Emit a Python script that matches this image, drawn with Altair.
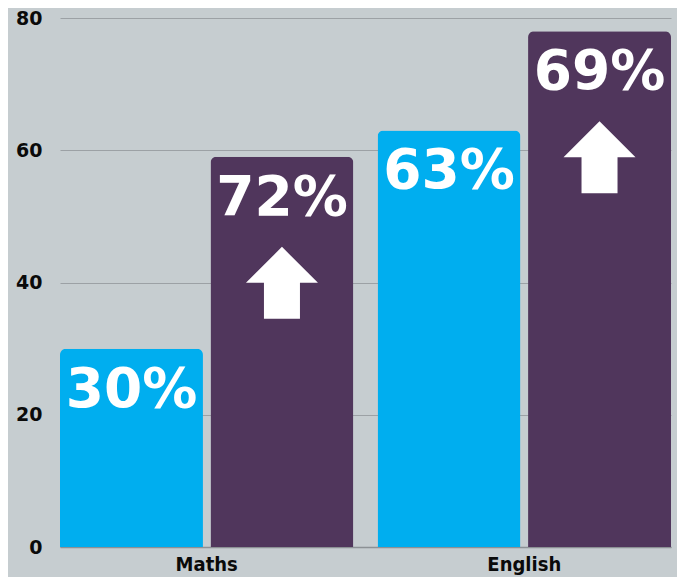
import altair as alt
import pandas as pd

subjects = ["Maths", "Maths", "English", "English"]
series = ["Before", "After", "Before", "After"]
values = [30, 59, 63, 78]
labels = ["30%", "72%", "63%", "69%"]
arrow_flags = [False, True, False, True]
y_ticks = [0, 20, 40, 60, 80]
subject_order = ["Maths", "English"]
series_order = ["Before", "After"]

df = pd.DataFrame({
    "subject": subjects,
    "series": series,
    "value": values,
    "label": labels,
    "arrow": arrow_flags,
})

BLUE = "#00aeef"
PURPLE = "#50365c"
BG = "#c6cdd0"

x = alt.X("subject:N", sort=subject_order,
          scale=alt.Scale(paddingInner=0.076, paddingOuter=0),
          axis=alt.Axis(title=None, labelAngle=0, ticks=False, domain=True,
                        domainColor="#8c9195", domainWidth=1.5,
                        labelFont="DejaVu Sans Condensed, DejaVu Sans",
                        labelFontWeight="bold", labelFontSize=20,
                        labelColor="#0a0a0a", labelPadding=7))
xo = alt.XOffset("series:N", sort=series_order,
                 scale=alt.Scale(paddingInner=0.05, paddingOuter=0))
y = alt.Y("value:Q", scale=alt.Scale(domain=[0, 80]),
          axis=alt.Axis(title=None, values=y_ticks, ticks=False, domain=False,
                        grid=True, gridColor="#9ca1a5", gridWidth=1,
                        labelFont="DejaVu Sans", labelFontWeight="bold",
                        labelFontSize=19, labelColor="#0a0a0a", labelPadding=18))

base = alt.Chart(df)

bars = base.mark_bar(cornerRadiusTopLeft=6, cornerRadiusTopRight=6).encode(
    x=x, xOffset=xo, y=y,
    color=alt.Color("series:N", sort=series_order,
                    scale=alt.Scale(domain=series_order, range=[BLUE, PURPLE]),
                    legend=None),
)

text = base.mark_text(font="DejaVu Sans", fontWeight="bold", fontSize=55,
                      color="white", baseline="alphabetic", dy=58).encode(
    x=x, xOffset=xo, y=y, text="label:N",
)

arrow_path = "M0,-1 L1,0 L0.5,0 L0.5,1 L-0.5,1 L-0.5,0 L-1,0 Z"
arrows = base.transform_filter("datum.arrow").mark_point(
    shape=arrow_path, size=5184, filled=True, color="white", opacity=1,
    strokeWidth=0, yOffset=126).encode(
    x=x, xOffset=xo, y=y,
)

chart = alt.layer(bars, text, arrows).properties(
    width=611, height=529,
    autosize="none",
    padding={"left": 52, "top": 10, "right": 6, "bottom": 30},
    background=BG,
).configure_view(stroke=None)

chart.save("out.html", embed_options={"renderer": "svg", "actions": False})
